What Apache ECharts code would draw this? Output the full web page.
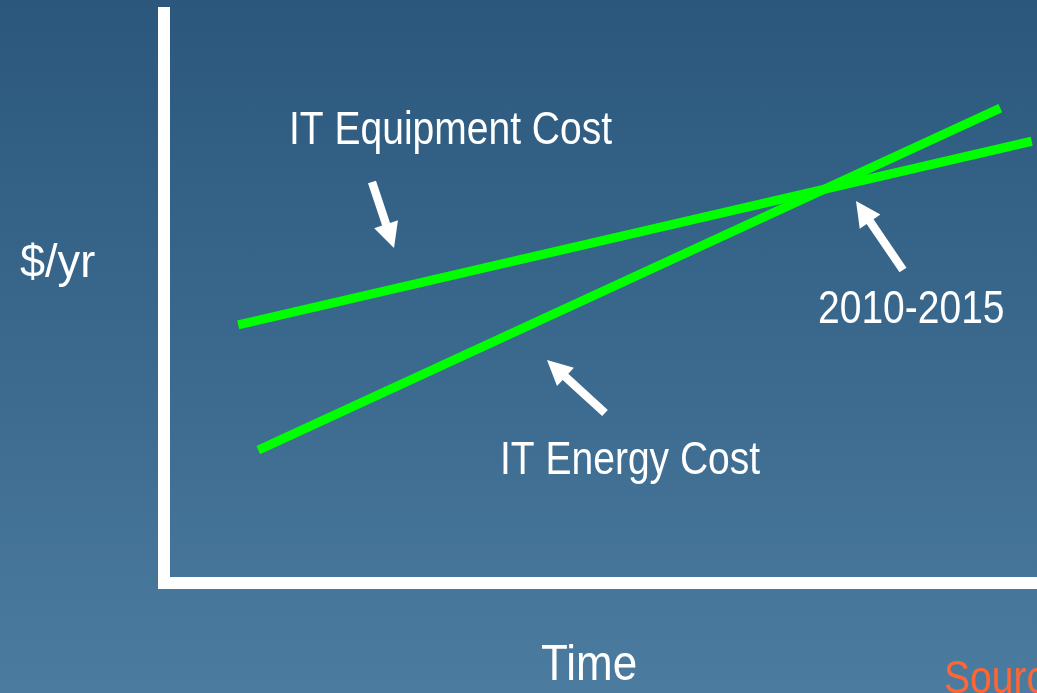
<!DOCTYPE html>
<html><head><meta charset="utf-8">
<script src="https://cdn.jsdelivr.net/npm/echarts@6/dist/echarts.min.js"></script>
<style>html,body{margin:0;padding:0;}#c{width:1037px;height:693px;background:linear-gradient(to bottom,#2b577c 0%,#3e6c91 60%,#4b7c9f 100%);}</style>
</head><body><div id="c"></div>
<script>
// Data (time units 0-100, cost units 0-100)
const equipmentCost = [[8.5, 45.3], [99.4, 77.5]];
const energyCost = [[10.8, 23.3], [95.8, 83.3]];
const seriesNames = ['IT Equipment Cost', 'IT Energy Cost'];
const yAxisLabel = '$/yr';
const xAxisLabel = 'Time';
const crossLabel = '2010-2015';

const FONT = '"Liberation Sans", Arial, sans-serif';
const chart = echarts.init(document.getElementById('c'), null, {renderer: 'canvas'});

function arrow(tx, ty, hx, hy) {
  const dx = hx - tx, dy = hy - ty, L = Math.hypot(dx, dy);
  const ux = dx / L, uy = dy / L, px = -uy, py = ux;
  const hl = 25, hw = 12.5, sw = 4.2;
  const bx = hx - ux * hl, by = hy - uy * hl;
  const pts = [
    [tx + px * sw, ty + py * sw],
    [bx + px * sw, by + py * sw],
    [bx + px * hw, by + py * hw],
    [hx, hy],
    [bx - px * hw, by - py * hw],
    [bx - px * sw, by - py * sw],
    [tx - px * sw, ty - py * sw]
  ];
  return {type: 'polygon', shape: {points: pts}, style: {fill: '#ffffff'}, silent: true};
}
function label(text, x, y, size, sx, color) {
  return {type: 'text', x: x, y: y, scaleX: sx, style: {text: text, font: size + 'px ' + FONT, fill: color || '#ffffff', textAlign: 'left', textVerticalAlign: 'middle'}, silent: true};
}

chart.setOption({
  animation: false,
  backgroundColor: 'transparent',
  grid: {left: 164, right: 0, top: 13, bottom: 110, containLabel: false},
  xAxis: {type: 'value', min: 0, max: 100, axisLine: {show: true, lineStyle: {color: '#ffffff', width: 12, cap: 'square'}}, axisTick: {show: false}, axisLabel: {show: false}, splitLine: {show: false}},
  yAxis: {type: 'value', min: 0, max: 100, axisLine: {show: true, lineStyle: {color: '#ffffff', width: 12, cap: 'square'}}, axisTick: {show: false}, axisLabel: {show: false}, splitLine: {show: false}},
  series: [
    {name: seriesNames[0], type: 'line', data: equipmentCost, showSymbol: false, lineStyle: {color: '#00ff00', width: 9, cap: 'butt'}, silent: true},
    {name: seriesNames[1], type: 'line', data: energyCost, showSymbol: false, lineStyle: {color: '#00ff00', width: 9, cap: 'butt'}, silent: true}
  ],
  graphic: [
    label(seriesNames[0], 289, 131, 47, 0.83),
    label(seriesNames[1], 500, 461, 47, 0.83),
    label(yAxisLabel, 20, 264, 46, 0.98),
    label(xAxisLabel, 541, 666, 50, 0.88),
    label(crossLabel, 818, 310, 47, 0.83),
    label('Source', 944, 680, 47, 0.83, '#ff6633'),
    arrow(372, 182, 394, 248),
    arrow(605, 413, 547, 360),
    arrow(903, 270, 856, 201)
  ]
});
</script></body></html>
